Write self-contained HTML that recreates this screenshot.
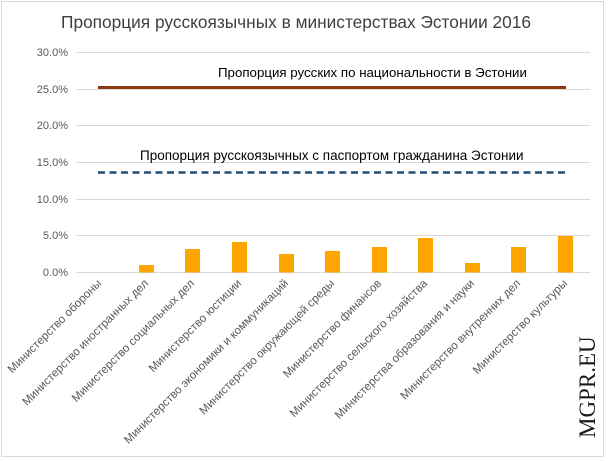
<!DOCTYPE html>
<html><head><meta charset="utf-8"><style>
html,body{margin:0;padding:0;background:#fff;}
svg{display:block;font-family:"Liberation Sans","DejaVu Sans",sans-serif;}
</style></head><body>
<svg width="608" height="461" viewBox="0 0 608 461">
<rect x="1.5" y="1.5" width="602" height="455" fill="#fff" stroke="#d9d9d9"/>
<text x="296" y="28" font-size="17.3" fill="#404040" text-anchor="middle">Пропорция русскоязычных в министерствах Эстонии 2016</text>
<g stroke="#d9d9d9" stroke-width="1">
<line x1="76" x2="590" y1="52.5" y2="52.5"/>
<line x1="76" x2="590" y1="89.5" y2="89.5"/>
<line x1="76" x2="590" y1="125.5" y2="125.5"/>
<line x1="76" x2="590" y1="162.5" y2="162.5"/>
<line x1="76" x2="590" y1="199.5" y2="199.5"/>
<line x1="76" x2="590" y1="235.5" y2="235.5"/>
<line x1="76" x2="590" y1="272.5" y2="272.5"/>
</g>
<g font-size="11" fill="#595959" text-anchor="end">
<text x="68" y="56">30.0%</text>
<text x="68" y="93">25.0%</text>
<text x="68" y="129">20.0%</text>
<text x="68" y="166">15.0%</text>
<text x="68" y="203">10.0%</text>
<text x="68" y="239">5.0%</text>
<text x="68" y="276">0.0%</text>
</g>
<g fill="#ffa500">
<rect x="139" y="265" width="15" height="7.5"/>
<rect x="185" y="249" width="15" height="23.5"/>
<rect x="232" y="242" width="15" height="30.5"/>
<rect x="279" y="254" width="15" height="18.5"/>
<rect x="325" y="251" width="15" height="21.5"/>
<rect x="372" y="247" width="15" height="25.5"/>
<rect x="418" y="238" width="15" height="34.5"/>
<rect x="465" y="263" width="15" height="9.5"/>
<rect x="511" y="247" width="15" height="25.5"/>
<rect x="558" y="236" width="15" height="36.5"/>
</g>
<line x1="98" x2="566" y1="87.5" y2="87.5" stroke="#8b3a0f" stroke-width="3"/>
<line x1="98" x2="566" y1="172.5" y2="172.5" stroke="#1f4e79" stroke-width="2.5" stroke-dasharray="7,4.5"/>
<text x="218" y="77" font-size="13.3" fill="#000">Пропорция русских по национальности в Эстонии</text>
<text x="140" y="160" font-size="13.5" fill="#000">Пропорция русскоязычных с паспортом гражданина Эстонии</text>
<g font-size="11.6" fill="#595959" text-anchor="end">
<text transform="translate(102,284) rotate(-45)">Министерство обороны</text>
<text transform="translate(149,284) rotate(-45)">Министерство иностранных дел</text>
<text transform="translate(195,284) rotate(-45)">Министерство социальных дел</text>
<text transform="translate(242,284) rotate(-45)">Министерство юстиции</text>
<text transform="translate(289,284) rotate(-45)">Министерство экономики и коммуникаций</text>
<text transform="translate(335,284) rotate(-45)">Министерство окружающей среды</text>
<text transform="translate(382,284) rotate(-45)">Министерство финансов</text>
<text transform="translate(428,284) rotate(-45)">Министерство сельского хозяйства</text>
<text transform="translate(475,284) rotate(-45)">Министерства образования и науки</text>
<text transform="translate(521,284) rotate(-45)">Министерство внутренних дел</text>
<text transform="translate(568,284) rotate(-45)">Министерство культуры</text>
</g>
<text transform="translate(595,438) rotate(-90)" font-family="Liberation Serif,serif" font-size="23" fill="#1a1a1a">MGPR.EU</text>
</svg>
</body></html>
